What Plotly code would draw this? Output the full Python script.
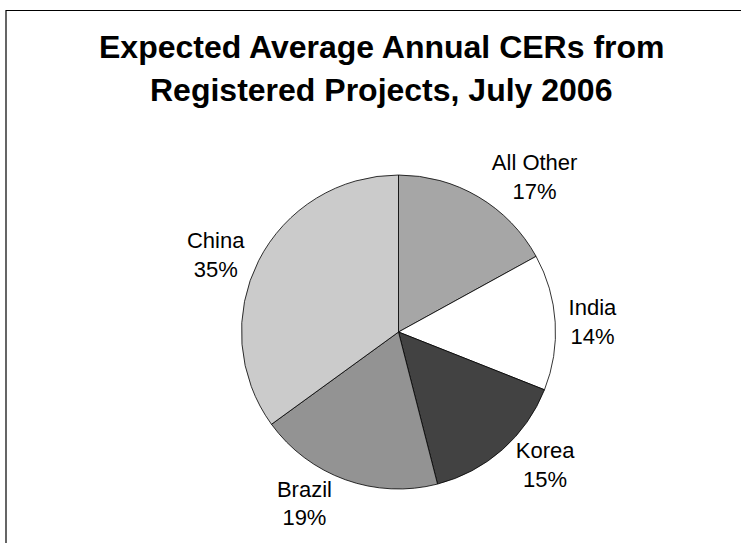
import plotly.graph_objects as go

W, H = 741, 543

# Data
categories = ["All Other", "India", "Korea", "Brazil", "China"]
shares = [17, 14, 15, 19, 35]
slice_colors = ["#A6A6A6", "#FFFFFF", "#424242", "#939393", "#CBCBCB"]
title_lines = ["Expected Average Annual CERs from", "Registered Projects, July 2006"]

FONT = "Liberation Sans, Arial, sans-serif"

def px_x(p):
    return p / W

def px_y(p):
    return 1 - p / H

cx, cy, r = 398.5, 332, 157

fig = go.Figure(
    go.Pie(
        labels=categories,
        values=shares,
        sort=False,
        direction="clockwise",
        rotation=0,
        marker=dict(colors=slice_colors, line=dict(color="#000000", width=0.8)),
        textinfo="label+percent",
        texttemplate="%{label}<br>%{percent:.0%}",
        textposition="outside",
        outsidetextfont=dict(family=FONT, size=22, color="#000000"),
        domain=dict(x=[px_x(cx - r), px_x(cx + r)], y=[px_y(cy + r), px_y(cy - r)]),
        showlegend=False,
        hoverinfo="label+percent",
    )
)

annotations = []
for text, yc in zip(title_lines, [47, 90]):
    annotations.append(
        dict(
            text=f"<b>{text}</b>",
            xref="paper", yref="paper",
            x=px_x(381), y=px_y(yc),
            xanchor="center", yanchor="middle",
            showarrow=False,
            font=dict(family=FONT, size=32, color="#000000"),
        )
    )

fig.update_layout(
    width=W, height=H,
    margin=dict(l=0, r=0, t=0, b=0),
    paper_bgcolor="#FFFFFF",
    plot_bgcolor="#FFFFFF",
    annotations=annotations,
    shapes=[
        dict(
            type="rect", xref="paper", yref="paper",
            x0=px_x(6), x1=1.2, y0=-0.2, y1=px_y(10.5),
            line=dict(color="#000000", width=1.2),
            fillcolor="rgba(0,0,0,0)",
            layer="below",
        )
    ],
)

fig.write_html(
    "out.html",
    config={"displayModeBar": False},
    post_script="document.body.style.margin='0';document.body.style.overflow='hidden';",
)
